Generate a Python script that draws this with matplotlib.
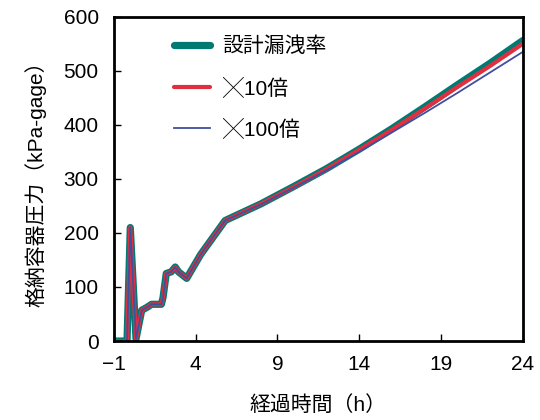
import numpy as np
import matplotlib
matplotlib.use("Agg")
import matplotlib.pyplot as plt

plt.rcParams['font.family'] = ['Liberation Sans', 'Noto Sans CJK JP']

# elapsed time (h) and containment vessel pressure (kPa-gage)
hours = [-1.0, -0.2, 0.0, 0.35, 0.7, 1.0, 1.3, 1.9, 2.0, 2.2, 2.5, 2.75, 2.95,
         3.45, 4.3, 5.8, 8.0, 10.0, 12.0, 14.0, 16.0, 18.0, 20.0, 22.0, 24.0]
p_design = [0, 0, 210, 4, 57, 62, 68, 68, 80, 125, 128, 137, 128,
            116, 160, 223, 254, 286, 319, 355, 393, 433, 474, 514, 556]
p_x10 = [0, 0, 210, 4, 57, 62, 68, 68, 80, 125, 128, 137, 128,
         116, 160, 223, 254, 285, 318, 354, 391, 430, 470, 509, 550]
p_x100 = [0, 0, 210, 4, 57, 62, 68, 68, 80, 125, 128, 137, 128,
          116, 160, 223, 253, 284, 316, 350, 386, 422, 459, 497, 535]

labels = ['設計漏洩率', '╳10倍', '╳100倍']
xticks = [-1, 4, 9, 14, 19, 24]
yticks = [0, 100, 200, 300, 400, 500, 600]

fig = plt.figure(figsize=(5.4, 4.2), dpi=100)
ax = fig.add_axes([0.211, 0.188, 0.757, 0.772])

ax.plot(hours, p_design, color='#007A72', lw=5.2, solid_capstyle='round',
        solid_joinstyle='round', label=labels[0])
ax.plot(hours, p_x10, color='#E03040', lw=3.0, solid_capstyle='round',
        solid_joinstyle='round', label=labels[1])
ax.plot(hours, p_x100, color='#3F4FA0', lw=1.3, label=labels[2])

ax.set_xlim(-1, 24)
ax.set_ylim(0, 600)
ax.set_xticks(xticks)
ax.set_yticks(yticks)
ax.tick_params(direction='in', length=5, width=1, labelsize=15)
ax.tick_params(axis='y', pad=11)
ax.tick_params(axis='x', pad=10)
for s in ax.spines.values():
    s.set_linewidth(2)

ax.set_xlabel('経過時間（h）', fontsize=15, labelpad=15)
ax.set_ylabel('格納容器圧力（kPa-gage）', fontsize=15, labelpad=12)

ax.legend(loc='upper left', bbox_to_anchor=(0.1, 0.997), frameon=False,
          fontsize=15, handlelength=1.75, labelspacing=1.0, handletextpad=0.6)

fig.savefig('out.png', dpi=100)
